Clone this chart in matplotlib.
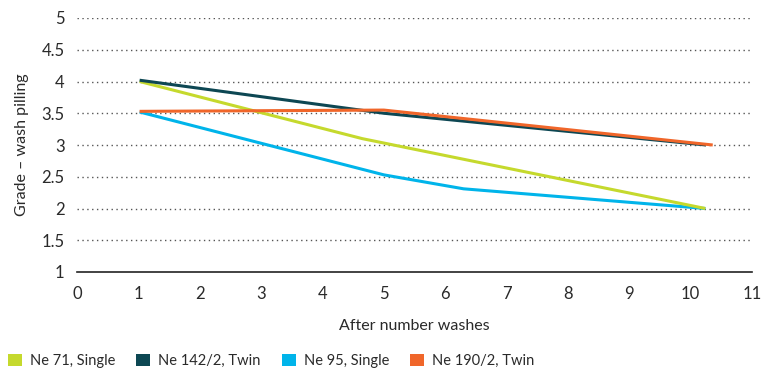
import matplotlib
matplotlib.use("Agg")
import matplotlib.pyplot as plt
from matplotlib.patches import Patch

plt.rcParams['font.family'] = ['Lato', 'DejaVu Sans']

# Data
names = ["Ne 71, Single", "Ne 142/2, Twin", "Ne 95, Single", "Ne 190/2, Twin"]
colors = ["#c5d92d", "#0d4753", "#00b4ea", "#f0662a"]

x_ne71 = [1.02, 4.65, 10.24]
y_ne71 = [4.0, 3.1, 2.0]

x_ne142 = [1.02, 5.0, 10.25]
y_ne142 = [4.02, 3.5, 3.0]

x_ne95 = [1.02, 5.0, 6.3, 10.24]
y_ne95 = [3.52, 2.53, 2.31, 2.0]

x_ne190 = [1.02, 5.0, 10.36]
y_ne190 = [3.53, 3.55, 3.0]

xticks = list(range(0, 12))
yticks = [1, 1.5, 2, 2.5, 3, 3.5, 4, 4.5, 5]
ytick_labels = ["1", "1.5", "2", "2.5", "3", "3.5", "4", "4.5", "5"]

text_color = '#2a2a2a'

fig = plt.figure(figsize=(7.66, 3.72), dpi=100)
ax = fig.add_axes([77/766, 100/372, 675/766, 254/372])

lw = 2.2
ax.plot(x_ne95, y_ne95, color=colors[2], lw=lw, zorder=3, solid_capstyle='butt')
ax.plot(x_ne71, y_ne71, color=colors[0], lw=lw, zorder=4, solid_capstyle='butt')
ax.plot(x_ne142, y_ne142, color=colors[1], lw=lw, zorder=5, solid_capstyle='butt')
ax.plot(x_ne190, y_ne190, color=colors[3], lw=lw, zorder=6, solid_capstyle='butt')

ax.set_xlim(0, 11)
ax.set_ylim(1, 5)
ax.set_xticks(xticks)
ax.set_yticks(yticks)
ax.set_yticklabels(ytick_labels)
ax.tick_params(axis='both', length=0, labelsize=12, labelcolor=text_color)
ax.tick_params(axis='x', pad=10)
ax.tick_params(axis='y', pad=9)

for y in yticks[1:]:
    ax.axhline(y, color='#555555', lw=1.0, ls=(0, (1, 2.5)), zorder=1)

for s in ['top', 'right', 'left']:
    ax.spines[s].set_visible(False)
ax.spines['bottom'].set_color('#222222')
ax.spines['bottom'].set_linewidth(1.2)

ax.set_ylabel("Grade – wash pilling", fontsize=11.5, color=text_color, labelpad=9)
ax.set_xlabel("After number washes", fontsize=11.5, color=text_color, labelpad=12)

handles = [Patch(facecolor=c, edgecolor='none') for c in colors]
fig.legend(handles, names, loc='center left', bbox_to_anchor=(0.0, 11/372), ncol=4,
           frameon=False, fontsize=10.5, handlelength=0.95, handleheight=0.95,
           handletextpad=0.55, columnspacing=1.45, labelcolor=text_color,
           borderpad=0.0, borderaxespad=0.55)

fig.savefig("out.png", dpi=100)
